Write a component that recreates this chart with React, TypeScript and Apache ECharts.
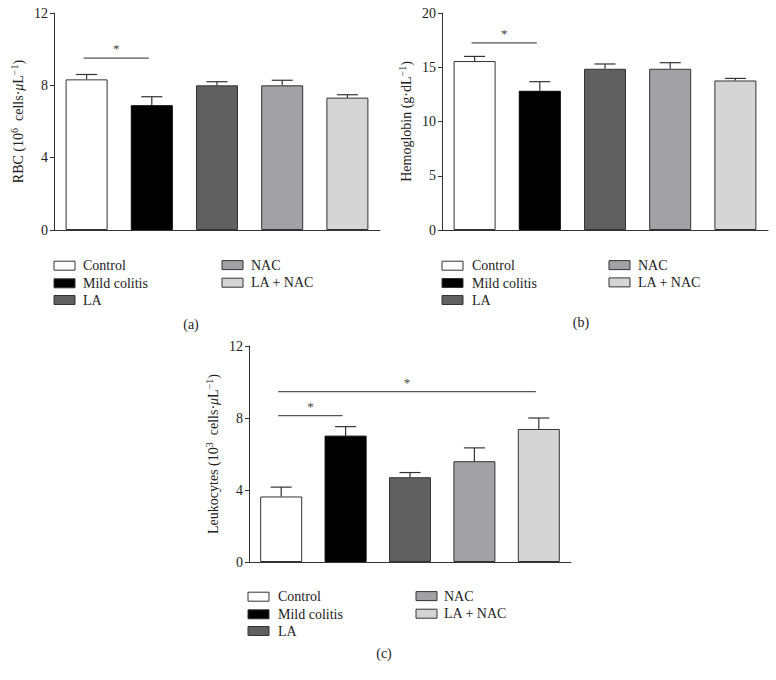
import React, { useEffect, useRef } from "react";
import * as echarts from "echarts";

const categories = ["Control", "Mild colitis", "LA", "NAC", "LA + NAC"];
const barColors = ["#ffffff", "#000000", "#606060", "#a2a1a6", "#d5d5d5"];

const rbcMean = [8.33, 6.9, 8.0, 8.0, 7.32];
const rbcErr = [0.27, 0.47, 0.2, 0.28, 0.16];
const rbcTicks = { min: 0, max: 12, interval: 4 };
const rbcSig = [[0, 1, 9.5]];

const hbMean = [15.57, 12.83, 14.86, 14.86, 13.78];
const hbErr = [0.43, 0.84, 0.44, 0.56, 0.19];
const hbTicks = { min: 0, max: 20, interval: 5 };
const hbSig = [[0, 1, 17.24]];

const leuMean = [3.64, 7.02, 4.71, 5.6, 7.39];
const leuErr = [0.52, 0.5, 0.26, 0.74, 0.61];
const leuTicks = { min: 0, max: 12, interval: 4 };
const leuSig = [
  [0, 1, 8.13],
  [0, 4, 9.46],
];

const panelLabels = ["(a)", "(b)", "(c)"];

const FONT = "'Liberation Serif', 'DejaVu Serif', serif";
const AXIS_COLOR = "#333";
const FS = 14;

const richName = {
  n: { fontSize: FS, fontFamily: FONT, color: "#222", lineHeight: 19 },
  i: { fontSize: FS, fontFamily: FONT, color: "#222", lineHeight: 19, fontStyle: "italic" },
  s: { fontSize: 10, fontFamily: FONT, color: "#222", lineHeight: 12, verticalAlign: "top" },
};

const names = [
  "{n|RBC (10}{s|6}{n|  cells·}{i|μ}{n|L}{s|−1}{n|)}",
  "{n|Hemoglobin (g·dL}{s|−1}{n|)}",
  "{n|Leukocytes (10}{s|3}{n|  cells·}{i|μ}{n|L}{s|−1}{n|)}",
];

const panels = [
  { grid: { left: 54, top: 13, width: 326, height: 217 }, mean: rbcMean, err: rbcErr, ticks: rbcTicks, sig: rbcSig, nameGap: 26 },
  { grid: { left: 442, top: 13, width: 326, height: 217 }, mean: hbMean, err: hbErr, ticks: hbTicks, sig: hbSig, nameGap: 26 },
  { grid: { left: 249, top: 346, width: 322, height: 216 }, mean: leuMean, err: leuErr, ticks: leuTicks, sig: leuSig, nameGap: 26 },
];

const legendLayouts = [
  { c1Box: 54, c1Text: 83, c2Box: 222, c2Text: 251, rows: [265.7, 283.3, 300], label: [191, 324] },
  { c1Box: 442, c1Text: 472, c2Box: 609, c2Text: 638, rows: [265.7, 283, 300], label: [581, 322] },
  { c1Box: 248, c1Text: 278, c2Box: 416, c2Text: 444, rows: [596.7, 614.3, 631], label: [384, 653] },
];

function buildOption() {
  const grid: any[] = [];
  const xAxis: any[] = [];
  const yAxis: any[] = [];
  const series: any[] = [];
  const graphic: any[] = [];

  panels.forEach((p, k) => {
    grid.push({ ...p.grid, containLabel: false, outerBoundsMode: "none" });
    xAxis.push({
      type: "category",
      gridIndex: k,
      data: categories,
      axisLine: { show: true, lineStyle: { color: AXIS_COLOR, width: 1 } },
      axisTick: { show: false },
      axisLabel: { show: false },
      splitLine: { show: false },
    });
    yAxis.push({
      type: "value",
      gridIndex: k,
      min: p.ticks.min,
      max: p.ticks.max,
      interval: p.ticks.interval,
      name: names[k],
      nameLocation: "middle",
      nameGap: p.nameGap,
      nameRotate: 90,
      nameTextStyle: { rich: richName },
      axisLine: { show: true, lineStyle: { color: AXIS_COLOR, width: 1 } },
      axisTick: { show: true, inside: false, length: 4, lineStyle: { color: AXIS_COLOR } },
      axisLabel: { show: true, fontFamily: FONT, fontSize: FS, color: "#222", margin: 6 },
      splitLine: { show: false },
    });
    series.push({
      type: "bar",
      xAxisIndex: k,
      yAxisIndex: k,
      barWidth: 42,
      data: p.mean.map((v, i) => ({
        value: v,
        itemStyle: { color: barColors[i], borderColor: i === 1 ? "#000" : "#333", borderWidth: 1 },
      })),
      silent: true,
    });
    series.push({
      type: "custom",
      xAxisIndex: k,
      yAxisIndex: k,
      data: p.mean.map((v, i) => [i, v, p.err[i]]),
      z: 1,
      renderItem: (params: any, api: any) => {
        const i = api.value(0);
        const m = api.value(1);
        const e = api.value(2);
        const a = api.coord([i, m]);
        const b = api.coord([i, m + e]);
        const hw = 10.5;
        const st = { stroke: "#333", lineWidth: 1.2 };
        return {
          type: "group",
          children: [
            { type: "line", shape: { x1: a[0], y1: a[1], x2: b[0], y2: b[1] }, style: st },
            { type: "line", shape: { x1: b[0] - hw, y1: b[1], x2: b[0] + hw, y2: b[1] }, style: st },
          ],
        };
      },
    });
    series.push({
      type: "custom",
      xAxisIndex: k,
      yAxisIndex: k,
      data: p.sig,
      renderItem: (params: any, api: any) => {
        const a = api.coord([api.value(0), api.value(2)]);
        const b = api.coord([api.value(1), api.value(2)]);
        return {
          type: "group",
          children: [
            { type: "line", shape: { x1: a[0] - 3, y1: a[1], x2: b[0] - 3, y2: b[1] }, style: { stroke: "#555", lineWidth: 1.2 } },
            {
              type: "text",
              style: {
                text: "*",
                x: (a[0] + b[0]) / 2 - 3,
                y: a[1] - 3,
                align: "center",
                verticalAlign: "bottom",
                textAlign: "center",
                textVerticalAlign: "bottom",
                fontSize: 13,
                fontFamily: FONT,
                fill: "#444",
              },
            },
          ],
        };
      },
    });

    const L = legendLayouts[k];
    categories.forEach((c, i) => {
      const col2 = i >= 3;
      const row = col2 ? i - 3 : i;
      const yc = L.rows[row] - (col2 ? 0.6 : 0);
      graphic.push({
        type: "rect",
        shape: { x: col2 ? L.c2Box : L.c1Box, y: yc - 4.5, width: 21, height: 9 },
        style: { fill: barColors[i], stroke: "#333", lineWidth: 1 },
      });
      graphic.push({
        type: "text",
        x: col2 ? L.c2Text : L.c1Text,
        y: yc,
        style: { text: c, fontSize: FS, fontFamily: FONT, fill: "#222", verticalAlign: "middle", align: "left" },
      });
    });
    graphic.push({
      type: "text",
      x: L.label[0],
      y: L.label[1],
      style: { text: panelLabels[k], fontSize: FS, fontFamily: FONT, fill: "#222", verticalAlign: "middle", align: "center" },
    });
  });

  return {
    animation: false,
    backgroundColor: "#ffffff",
    grid,
    xAxis,
    yAxis,
    series,
    graphic,
  };
}

export default function App() {
  const ref = useRef<HTMLDivElement>(null);
  useEffect(() => {
    if (!ref.current) return;
    const chart = echarts.init(ref.current, undefined, { renderer: "svg" });
    chart.setOption(buildOption() as any);
    return () => chart.dispose();
  }, []);
  return (
    <div
      ref={ref}
      style={{ position: "absolute", left: 0, top: 0, width: 776, height: 680 }}
    />
  );
}
